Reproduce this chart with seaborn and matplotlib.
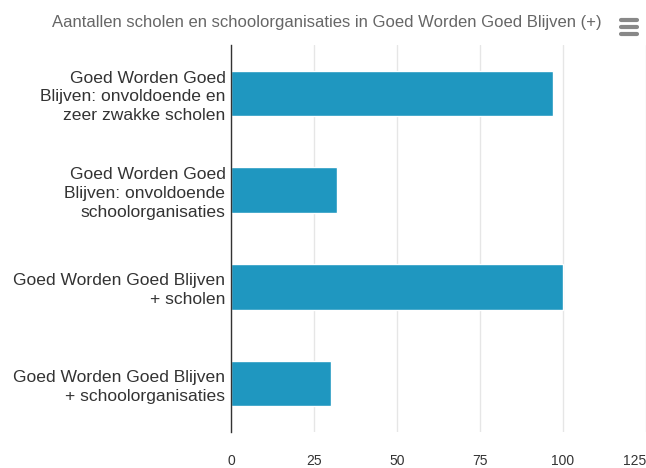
import matplotlib
matplotlib.use("Agg")
import matplotlib.pyplot as plt
import seaborn as sns
import pandas as pd

# Data
categories = [
    "Goed Worden Goed\nBlijven: onvoldoende en\nzeer zwakke scholen",
    "Goed Worden Goed\nBlijven: onvoldoende\nschoolorganisaties",
    "Goed Worden Goed Blijven\n+ scholen",
    "Goed Worden Goed Blijven\n+ schoolorganisaties",
]
values = [97, 32, 100, 30]
x_ticks = [0, 25, 50, 75, 100, 125]
title = "Aantallen scholen en schoolorganisaties in Goed Worden Goed Blijven (+)"

df = pd.DataFrame({"categorie": categories, "aantal": values})

sns.set_style("white")
plt.rcParams["font.family"] = ["Liberation Sans", "DejaVu Sans"]

fig = plt.figure(figsize=(6.46, 4.68), dpi=100)
ax = fig.add_axes([231 / 646, 1 - 432 / 468, 1 - 231 / 646, (432 - 45) / 468])

sns.barplot(data=df, x="aantal", y="categorie", orient="h", color="#1f97c0",
            saturation=1, width=0.47, ax=ax)

ax.set_xlim(0, 125)
ax.set_xticks(x_ticks)
ax.set_xticklabels([str(t) for t in x_ticks])
ax.set_yticks(range(len(categories)))
ax.set_yticklabels(categories, linespacing=1.3)
ax.xaxis.grid(True, color="#e6e6e6", linewidth=1)
ax.set_axisbelow(True)
ax.set_xlabel("")
ax.set_ylabel("")
for s in ["top", "right", "bottom"]:
    ax.spines[s].set_visible(False)
ax.spines["left"].set_color("#333333")
ax.spines["left"].set_linewidth(1)
ax.tick_params(axis="x", length=0, pad=16, labelsize=10, labelcolor="#333333")
ax.tick_params(axis="y", length=0, pad=4, labelsize=12.6, labelcolor="#333333")
ax.get_xticklabels()[-1].set_horizontalalignment("right")

fig.text(327 / 646, 1 - 22 / 468, title, ha="center", va="center",
         fontsize=12, color="#666666")

# menu icon
for yy in [20, 27, 34]:
    fig.add_artist(plt.Line2D([621 / 646, 637 / 646], [1 - yy / 468] * 2,
                              color="#888888", linewidth=3, solid_capstyle="round"))

fig.savefig("out.png", dpi=100)
